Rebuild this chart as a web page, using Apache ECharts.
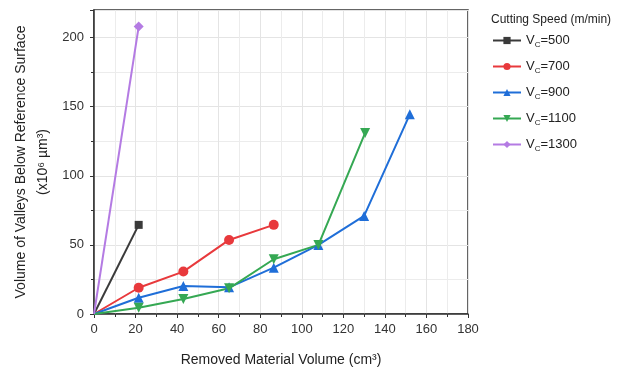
<!DOCTYPE html>
<html><head><meta charset="utf-8">
<script src="https://cdn.jsdelivr.net/npm/echarts@6/dist/echarts.min.js"></script>
<style>html,body{margin:0;padding:0;background:#fff}#c{width:639px;height:369px}</style>
</head><body><div id="c"></div>
<script>
const seriesNames = ['500', '700', '900', '1100', '1300'];
const x500 = [0, 21.5];
const y500 = [0, 64.5];
const x700 = [0, 21.5, 43, 65, 86.5];
const y700 = [0, 19, 30.7, 53.6, 64.5];
const x900 = [0, 21.5, 43, 65, 86.5, 108, 130, 152];
const y900 = [0, 11.8, 20.3, 19.3, 33.5, 50, 71, 144.5];
const x1100 = [0, 21.5, 43, 65, 86.5, 108, 130.5];
const y1100 = [0, 4.6, 10.9, 18.6, 39.6, 50, 131];
const x1300 = [0, 21.5];
const y1300 = [0, 208];
const xs = [x500, x700, x900, x1100, x1300];
const ys = [y500, y700, y900, y1100, y1300];
const colors = ['#3a3a3a', '#e8393c', '#1f6ed8', '#35a853', '#b47be3'];
const symbols = ['rect', 'circle', 'triangle', 'path://M0,0 L10,0 L5,9 Z', 'diamond'];
const symbolSizes = [8, 10, 10, 10, 10];

const chart = echarts.init(document.getElementById('c'));
const font = 'Liberation Sans, Arial, sans-serif';
chart.setOption({
  animation: false,
  textStyle: {fontFamily: font},
  title: {text: 'Cutting Speed (m/min)', left: 486, top: 9,
    textStyle: {fontSize: 12, fontWeight: 'normal', color: '#222', fontFamily: font}},
  legend: {
    orient: 'vertical', left: 487, top: 29, itemWidth: 28, itemHeight: 9, itemGap: 11.5,
    data: seriesNames.map(n => 'Vc=' + n),
    formatter: function (n) { return '{v|V}{s|C}{v|' + n.slice(2) + '}'; },
    textStyle: {color: '#222', fontSize: 13, rich: {
      v: {fontSize: 13, color: '#222', fontFamily: font},
      s: {fontSize: 8, color: '#222', fontFamily: font, padding: [8, 0, 0, 0]}
    }}
  },
  grid: {left: 94, top: 10, width: 374, height: 304, show: true, borderColor: '#333', borderWidth: 1.5,
    containLabel: false, outerBoundsMode: 'none'},
  xAxis: {
    type: 'value', min: 0, max: 180, interval: 20,
    name: 'Removed Material Volume (cm³)', nameLocation: 'middle', nameGap: 39,
    nameTextStyle: {fontSize: 14, color: '#222', fontFamily: font},
    axisLine: {lineStyle: {color: '#333', width: 1.5}},
    axisTick: {show: true, length: 4, lineStyle: {color: '#333'}},
    minorTick: {show: true, splitNumber: 2, length: 3, lineStyle: {color: '#333'}},
    axisLabel: {fontSize: 13, color: '#333', margin: 9},
    splitLine: {show: true, lineStyle: {color: '#e4e4e4', width: 1}},
    minorSplitLine: {show: true, lineStyle: {color: '#ececec', width: 1}}
  },
  yAxis: {
    type: 'value', min: 0, max: 220, interval: 50,
    name: '{a|Volume of Valleys Below Reference Surface}\n{a|(x10⁶ µm³)}',
    nameLocation: 'middle', nameGap: 40, nameRotate: 90,
    nameTextStyle: {rich: {a: {fontSize: 14, color: '#222', fontFamily: font, lineHeight: 22}}},
    axisLine: {show: true, lineStyle: {color: '#333', width: 1.5}},
    axisTick: {show: true, length: 4, lineStyle: {color: '#333'}},
    minorTick: {show: true, splitNumber: 2, length: 3, lineStyle: {color: '#333'}},
    axisLabel: {fontSize: 13, color: '#333', margin: 10, showMaxLabel: false,
      formatter: v => (v > 200 ? '' : String(v))},
    splitLine: {show: true, lineStyle: {color: '#e4e4e4', width: 1}},
    minorSplitLine: {show: true, lineStyle: {color: '#ececec', width: 1}}
  },
  series: seriesNames.map((n, i) => ({
    name: 'Vc=' + n, type: 'line',
    data: xs[i].map((x, j) => (j === 0 ? {value: [x, ys[i][j]], symbol: 'none'} : [x, ys[i][j]])),
    symbol: symbols[i], symbolSize: symbolSizes[i],
    lineStyle: {color: colors[i], width: 2},
    itemStyle: {color: colors[i]},
    showAllSymbol: true
  }))
});
</script></body></html>
